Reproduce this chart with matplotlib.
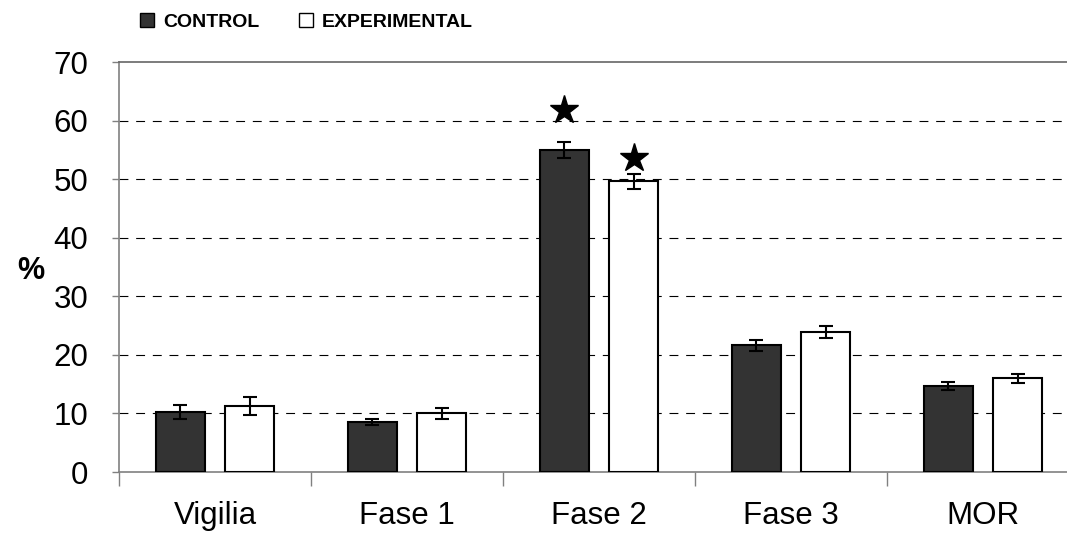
import numpy as np
import matplotlib
matplotlib.use("Agg")
import matplotlib.pyplot as plt
from matplotlib.lines import Line2D

plt.rcParams['font.family'] = ['Liberation Sans', 'DejaVu Sans']

categories = ['Vigilia', 'Fase 1', 'Fase 2', 'Fase 3', 'MOR']
control = [10.3, 8.6, 55.0, 21.6, 14.7]
control_err = [1.2, 0.5, 1.4, 1.0, 0.7]
experimental = [11.3, 10.0, 49.6, 23.9, 16.0]
experimental_err = [1.5, 1.0, 1.3, 1.0, 0.75]
# significance stars: (group index, y)
stars_control = [(2, 61.8)]
stars_experimental = [(2, 53.6)]
yticks = [0, 10, 20, 30, 40, 50, 60, 70]

fig = plt.figure(figsize=(10.67, 5.33), dpi=100)
ax = fig.add_axes([119 / 1067, 1 - 472 / 533, 960 / 1067, 410 / 533])

x = np.arange(len(categories)) + 0.5
w = 0.255
off = 0.18
ekw = dict(ecolor='black', elinewidth=1.5, capsize=5, capthick=1.5)
ax.bar(x - off, control, w, color='#333333', edgecolor='black', linewidth=1.5,
       yerr=control_err, error_kw=ekw, zorder=3)
ax.bar(x + off, experimental, w, color='white', edgecolor='black', linewidth=1.5,
       yerr=experimental_err, error_kw=ekw, zorder=3)

for i, y in stars_control:
    ax.plot(x[i] - off, y, marker='*', color='black', markersize=21, zorder=4)
for i, y in stars_experimental:
    ax.plot(x[i] + off, y, marker='*', color='black', markersize=21, zorder=4)

ax.set_xlim(0, len(categories))
ax.set_ylim(0, 70)
ax.set_yticks(yticks)
ax.set_yticklabels([str(t) for t in yticks], fontsize=22.5)
ax.set_xticks(np.arange(len(categories) + 1))
ax.set_xticklabels([])
ax.set_xticks(x, minor=True)
ax.set_xticklabels(categories, minor=True, fontsize=22.5)
ax.tick_params(axis='x', which='major', direction='out', length=10, width=1, color='#808080')
ax.tick_params(axis='x', which='minor', length=0, pad=21)
ax.tick_params(axis='y', direction='out', length=5, width=1, color='#808080', pad=17)

for yv in yticks[1:-1]:
    ax.axhline(yv, color='black', linewidth=0.8, linestyle=(0, (8, 7)), zorder=1)

ax.spines['right'].set_visible(False)
ax.spines['top'].set_color('#666666')
ax.spines['left'].set_color('#808080')
ax.spines['bottom'].set_color('#808080')
for s in ax.spines.values():
    s.set_linewidth(1.2)

ax.text(-0.092, 0.49, '%', transform=ax.transAxes, fontsize=22,
        fontweight='bold', ha='center', va='center')

handles = [
    Line2D([], [], marker='s', linestyle='none', markersize=10,
           markerfacecolor='#333333', markeredgecolor='black', markeredgewidth=1),
    Line2D([], [], marker='s', linestyle='none', markersize=10,
           markerfacecolor='white', markeredgecolor='black', markeredgewidth=1),
]
fig.legend(handles, ['CONTROL', 'EXPERIMENTAL'], loc='center left',
           bbox_to_anchor=(122 / 1067, 1 - 22 / 533), ncol=2, frameon=False,
           prop={'weight': 'bold', 'size': 14}, handlelength=0.8,
           handletextpad=0.4, columnspacing=2.0)

fig.savefig('out.png', dpi=100)
